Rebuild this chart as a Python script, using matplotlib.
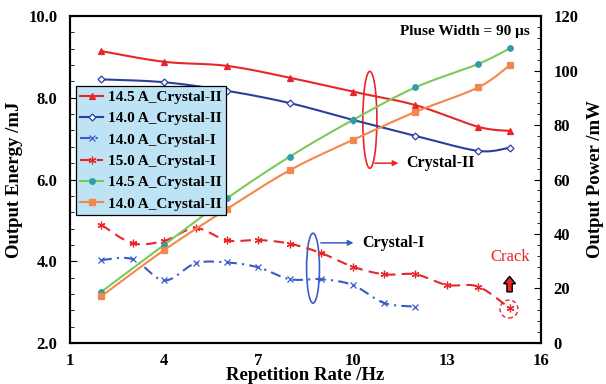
#!/usr/bin/env python
"""Output energy and power versus repetition rate for the two crystals."""

import numpy as np
import matplotlib
matplotlib.use("Agg")
import matplotlib.pyplot as plt
from matplotlib.patches import Ellipse, FancyArrow
from matplotlib.ticker import MultipleLocator, FormatStrFormatter

plt.rcParams["font.family"] = ["Liberation Serif", "DejaVu Serif"]
plt.rcParams["font.weight"] = "bold"

# repetition rates (Hz)
rate_full = [2, 4, 6, 8, 10, 12, 14, 15]
rate_c1_15 = [2, 3, 4, 5, 6, 7, 8, 9, 10, 11, 12, 13, 14, 15]
rate_c1_14 = [2, 3, 4, 5, 6, 7, 8, 9, 10, 11, 12]
rate_ticks = [1, 4, 7, 10, 13, 16]

# output energy (mJ)
energy_145_c2 = [9.14, 8.88, 8.78, 8.49, 8.15, 7.82, 7.29, 7.19]
energy_140_c2 = [8.45, 8.38, 8.17, 7.87, 7.46, 7.07, 6.70, 6.78]
energy_140_c1 = [4.03, 4.05, 3.53, 3.95, 3.97, 3.85, 3.56, 3.56, 3.42, 2.98, 2.89]
energy_150_c1 = [4.89, 4.44, 4.50, 4.81, 4.51, 4.52, 4.43, 4.20, 3.87, 3.68, 3.68,
                 3.42, 3.38, 2.85]

# output power (mW)
power_145_c2 = [18.8, 36.0, 53.1, 68.4, 81.8, 93.8, 102.4, 108.1]
power_140_c2 = [17.2, 34.1, 49.2, 63.4, 74.5, 84.8, 93.8, 101.9]


def smooth(x, y, steps=24):
    """Catmull-Rom curve through the points, drawn as a smoothed line."""
    x = np.asarray(x, float)
    y = np.asarray(y, float)
    px = np.concatenate([[x[0]], x, [x[-1]]])
    py = np.concatenate([[y[0]], y, [y[-1]]])
    t = np.linspace(0, 1, steps)
    xs, ys = [], []
    for i in range(1, len(px) - 2):
        p0, p1, p2, p3 = (np.array([px[j], py[j]]) for j in (i - 1, i, i + 1, i + 2))
        c1 = p1 + (p2 - p0) / 6
        c2 = p2 - (p3 - p1) / 6
        b = ((1 - t) ** 3)[:, None] * p1 + (3 * (1 - t) ** 2 * t)[:, None] * c1 \
            + (3 * (1 - t) * t ** 2)[:, None] * c2 + (t ** 3)[:, None] * p2
        xs.append(b[:, 0])
        ys.append(b[:, 1])
    return np.concatenate(xs), np.concatenate(ys)


def series(ax, x, y, color, marker, ls="-", mfc=None, mec=None, ms=4.5, label=None):
    sx, sy = smooth(x, y)
    ax.plot(sx, sy, color=color, ls=ls, lw=1.5)
    ax.plot(x, y, ls="none", marker=marker, color=color, mfc=mfc or color,
            mec=mec or color, ms=ms, mew=0.9)
    return plt.Line2D([], [], color=color, ls=ls, lw=1.5, marker=marker,
                      mfc=mfc or color, mec=mec or color, ms=ms, mew=0.9, label=label)


RED = "#e8262a"
BLUE = "#2b3f9e"
BLUE_X = "#3a5cc8"
GREEN = "#7cc85a"
TEAL = "#2f9fa6"
ORANGE = "#f4874b"

fig = plt.figure(figsize=(6.06, 3.84), dpi=100)
ax = fig.add_axes([0.1155, 0.1068, 0.7772, 0.8515])
ax2 = ax.twinx()

handles = [
    series(ax, rate_full, energy_145_c2, RED, "^", ms=5, label="14.5 A_Crystal-II"),
    series(ax, rate_full, energy_140_c2, BLUE, "D", mfc="white", ms=3.5, label="14.0 A_Crystal-II"),
    series(ax, rate_c1_14, energy_140_c1, BLUE_X, "x", ls=(0, (5, 2.5, 1, 2.5)), ms=4.5,
           label="14.0 A_Crystal-I"),
    series(ax, rate_c1_15, energy_150_c1, RED, (6, 2, 0), ls=(0, (5, 3)), ms=5.5,
           label="15.0 A_Crystal-I"),
    series(ax2, rate_full, power_145_c2, GREEN, "o", mfc=TEAL, mec=TEAL, ms=4,
           label="14.5 A_Crystal-II"),
    series(ax2, rate_full, power_140_c2, ORANGE, "s", ms=4.5, label="14.0 A_Crystal-II"),
]

ax.set_xlim(1, 16)
ax.set_ylim(2, 10)
ax2.set_ylim(0, 120)
ax.set_xticks(rate_ticks)
ax.yaxis.set_major_locator(MultipleLocator(2))
ax.yaxis.set_minor_locator(MultipleLocator(0.4))
ax.yaxis.set_major_formatter(FormatStrFormatter("%.1f"))
ax2.yaxis.set_major_locator(MultipleLocator(20))
ax2.yaxis.set_minor_locator(MultipleLocator(4))

ax.tick_params(axis="x", length=0, labelsize=12, pad=7)
ax.tick_params(axis="y", which="both", direction="in", labelsize=12, pad=9)
ax.tick_params(axis="y", which="major", length=5)
ax.tick_params(axis="y", which="minor", length=3)
ax2.tick_params(axis="y", which="both", direction="in", labelsize=12, pad=9)
ax2.tick_params(axis="y", which="major", length=5)
ax2.tick_params(axis="y", which="minor", length=3)
for a in (ax, ax2):
    for sp in a.spines.values():
        sp.set_linewidth(1.5)

ax.set_xlabel("Repetition Rate /Hz", fontsize=13.5, fontweight="bold", labelpad=-1)
ax.set_ylabel("Output Energy /mJ", fontsize=13.5, fontweight="bold", labelpad=4)
ax2.set_ylabel("Output Power /mW", fontsize=13.5, fontweight="bold", labelpad=6)

leg = ax2.legend(handles=handles, loc="upper left", bbox_to_anchor=(0.012, 0.787),
                 fontsize=11, frameon=True, fancybox=False, framealpha=1,
                 facecolor="#bde3f4", edgecolor="black", handlelength=1.5,
                 handletextpad=0.3, labelspacing=0.5, borderpad=0.3, borderaxespad=0)
leg.get_frame().set_linewidth(0.9)
leg.set_zorder(10)

# group markers and labels
ax.add_patch(Ellipse((10.55, 7.46), 0.45, 2.37, fill=False, ec=RED, lw=1.2))
ax.annotate("", xy=(11.55, 6.40), xytext=(10.62, 6.40),
            arrowprops=dict(arrowstyle="-|>", color=RED, lw=1.1, mutation_scale=8))
ax.text(11.72, 6.40, "Crystal-II", fontsize=11.5, fontweight="bold", va="center")

ax.add_patch(Ellipse((8.74, 3.83), 0.41, 1.71, fill=False, ec=BLUE_X, lw=1.2))
ax.annotate("", xy=(10.12, 4.45), xytext=(8.90, 4.45),
            arrowprops=dict(arrowstyle="-|>", color=BLUE_X, lw=1.1, mutation_scale=8))
ax.text(10.32, 4.45, "Crystal-I", fontsize=11.5, fontweight="bold", va="center")

ax.text(15.01, 4.10, "Crack", fontsize=12, fontweight="normal", color=RED,
        ha="center", va="center")
ax.add_patch(FancyArrow(15.0, 3.25, 0, 0.38, width=0.17, head_width=0.38,
                        head_length=0.18, fc=RED, ec="black", lw=1.0,
                        length_includes_head=True, zorder=5))
ax.add_patch(Ellipse((14.98, 2.83), 18 / 31.4, 18 / 40.9, fill=False, ec=RED,
                     lw=1.0, ls=(0, (3, 2))))

ax.text(15.65, 9.61, "Pluse Width = 90 \u03bcs", fontsize=11, fontweight="bold",
        ha="right", va="center")

fig.savefig("out.png", dpi=100)
